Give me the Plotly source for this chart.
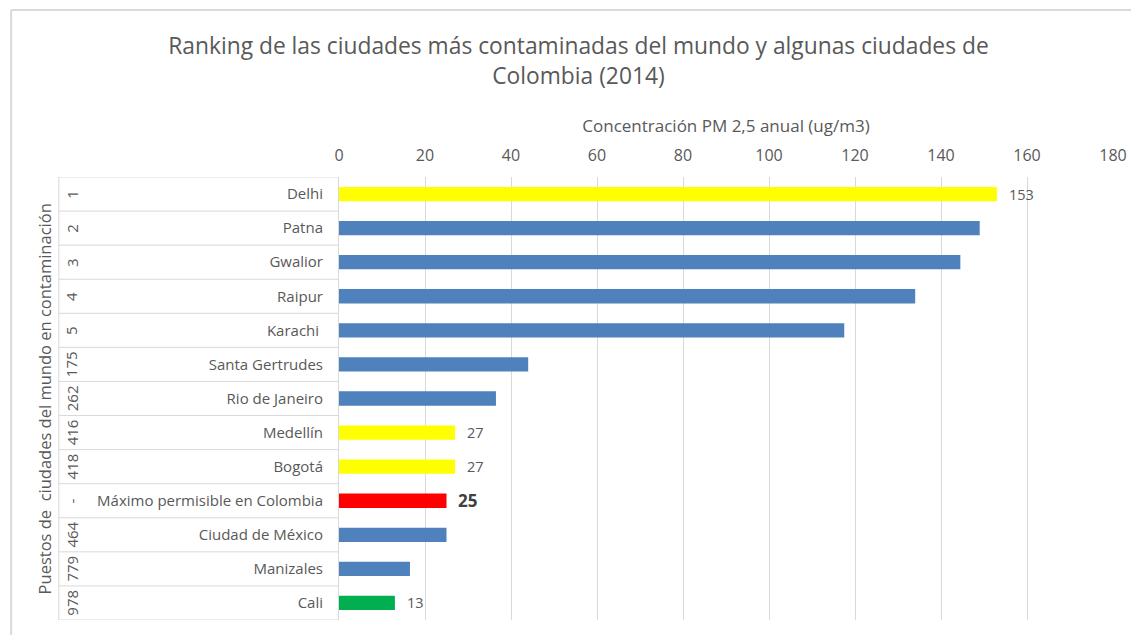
import plotly.graph_objects as go

# Data
ciudades = ["Delhi", "Patna", "Gwalior", "Raipur", "Karachi ", "Santa Gertrudes",
            "Rio de Janeiro", "Medellín", "Bogotá", "Máximo permisible en Colombia",
            "Ciudad de México", "Manizales", "Cali"]
puestos = ["1", "2", "3", "4", "5", "175", "262", "416", "418", "-", "464", "779", "978"]
pm25 = [153, 149, 144.5, 134, 117.5, 44, 36.5, 27, 27, 25, 25, 16.5, 13]
colores = ["#FFFF00", "#4F81BD", "#4F81BD", "#4F81BD", "#4F81BD", "#4F81BD",
           "#4F81BD", "#FFFF00", "#FFFF00", "#FF0000", "#4F81BD", "#4F81BD", "#00B050"]
etiquetas = ["153", "", "", "", "", "", "", "27", "27", "<b>25</b>", "", "", "13"]

GRIS = "#595959"
FUENTE = "'Open Sans', sans-serif"

# the page body adds an 8px margin, so the figure is 8px smaller to fit the window
W, H = 1131, 627
ML, MR, MT, MB = 331, 21, 169, 15
PW = W - ML - MR
PH = H - MT - MB


def px_x(p):
    # page pixel x -> paper x
    return (p - 8 - ML) / PW


def px_y(p):
    # page pixel y -> paper y
    return 1 - (p - 8 - MT) / PH


fig = go.Figure(go.Bar(
    x=pm25,
    y=ciudades,
    orientation="h",
    marker=dict(color=colores, line=dict(width=0)),
    width=0.42,
    hoverinfo="x+y",
))

anotaciones = []
for ciudad, valor, etiqueta in zip(ciudades, pm25, etiquetas):
    if etiqueta:
        grande = etiqueta.startswith("<b>")
        anotaciones.append(dict(
            x=valor, y=ciudad, xref="x", yref="y", text=etiqueta,
            showarrow=False, xanchor="left", xshift=10 if not grande else 9,
            font=dict(size=17 if grande else 14.5, color="#404040" if grande else GRIS),
        ))

# rank labels, rotated, in the left column
for ciudad, puesto in zip(ciudades, puestos):
    anotaciones.append(dict(
        x=px_x(70), y=ciudad, xref="paper", yref="y", text=puesto,
        showarrow=False, textangle=-90, xanchor="center", yanchor="middle",
        font=dict(size=15, color=GRIS),
    ))

anotaciones.append(dict(
    x=px_x(43), y=0.5, xref="paper", yref="paper",
    text="Puestos de  ciudades del mundo en contaminación",
    showarrow=False, textangle=-90, xanchor="center", yanchor="middle",
    font=dict(size=16.5, color=GRIS),
))

# table lines of the category column
lineas = []
for i in range(len(ciudades) + 1):
    lineas.append(dict(type="line", xref="paper", yref="y",
                       x0=px_x(57), x1=0, y0=i - 0.5, y1=i - 0.5,
                       line=dict(color="#D9D9D9", width=1)))
lineas.append(dict(type="line", xref="paper", yref="paper", x0=px_x(57), x1=px_x(57),
                   y0=0, y1=1, line=dict(color="#D9D9D9", width=1)))
# outer chart border (top and left)
lineas.append(dict(type="line", xref="paper", yref="paper", x0=px_x(9), x1=px_x(1139),
                   y0=px_y(10), y1=px_y(10), line=dict(color="#D9D9D9", width=2)))
lineas.append(dict(type="line", xref="paper", yref="paper", x0=px_x(9), x1=px_x(9),
                   y0=px_y(640), y1=px_y(10), line=dict(color="#D9D9D9", width=2)))

fig.update_layout(
    width=W, height=H,
    margin=dict(l=ML, r=MR, t=MT, b=MB),
    paper_bgcolor="white", plot_bgcolor="white",
    font=dict(family=FUENTE, color=GRIS, size=14),
    title=dict(
        text="Ranking de las ciudades más contaminadas del mundo y algunas ciudades de<br>Colombia (2014)",
        x=px_x(580), xanchor="center", xref="paper", y=1 - (46 / H), yanchor="middle",
        font=dict(size=22.8, color=GRIS, family=FUENTE),
    ),
    xaxis=dict(
        side="top", range=[0, 180], dtick=20, showgrid=True, gridcolor="#D9D9D9",
        zeroline=False, showline=False, ticks="", ticklabelstandoff=12,
        tickfont=dict(size=16, color=GRIS),
        title=dict(text="Concentración PM 2,5 anual (ug/m3)", font=dict(size=17, color=GRIS),
                   standoff=6),
    ),
    yaxis=dict(
        type="category", range=[12.5, -0.5], showgrid=False, zeroline=False,
        showline=True, linecolor="#D9D9D9", ticks="", ticklabelstandoff=12,
        tickfont=dict(size=15, color=GRIS),
    ),
    annotations=anotaciones,
    shapes=lineas,
    showlegend=False,
)

fig.write_html("out.html")
